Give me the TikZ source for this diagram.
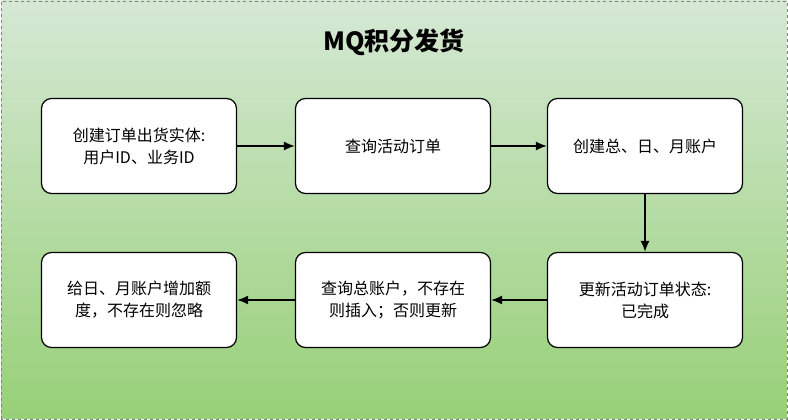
\documentclass[tikz,border=0pt]{standalone}
\usepackage{fontspec}
\setmainfont{Noto Sans CJK SC}
\usetikzlibrary{positioning,arrows.meta}
\definecolor{bgtop}{HTML}{D5E8D4}
\definecolor{bgbot}{HTML}{97D077}

\begin{document}
\begin{tikzpicture}[x=1pt, y=1pt,
    stepbox/.style={draw=black, line width=1.2pt, fill=white, rounded corners=10pt,
        minimum width=195pt, minimum height=95pt, align=center, font=\fontsize{16}{22}\selectfont},
    flow/.style={-{Latex[length=11pt, width=9pt]}, line width=1.5pt}
]
    \useasboundingbox (0,0) rectangle (788,420);
    \shade[top color=bgtop, bottom color=bgbot, draw=gray, dashed] (1,1) rectangle (787,419);
    \node[font=\fontsize{25}{29}\selectfont\bfseries] (title) at (394,378) {MQ积分发货};
    % 第一行
    \node[stepbox] (create) at (139,274) {创建订单出货实体:\\用户ID、业务ID};
    \node[stepbox] (query) at (393,274) {查询活动订单};
    \node[stepbox] (account) at (645,274) {创建总、日、月账户};
    % 第二行
    \node[stepbox] (update) at (645,120) {更新活动订单状态:\\已完成};
    \node[stepbox] (total) at (393,120) {查询总账户，不存在\\则插入；否则更新};
    \node[stepbox] (quota) at (139,120) {给日、月账户增加额\\度，不存在则忽略};
    % 连线
    \draw[flow] (create) -- (query);
    \draw[flow] (query) -- (account);
    \draw[flow] (account) -- (update);
    \draw[flow] (update) -- (total);
    \draw[flow] (total) -- (quota);
\end{tikzpicture}
\end{document}
